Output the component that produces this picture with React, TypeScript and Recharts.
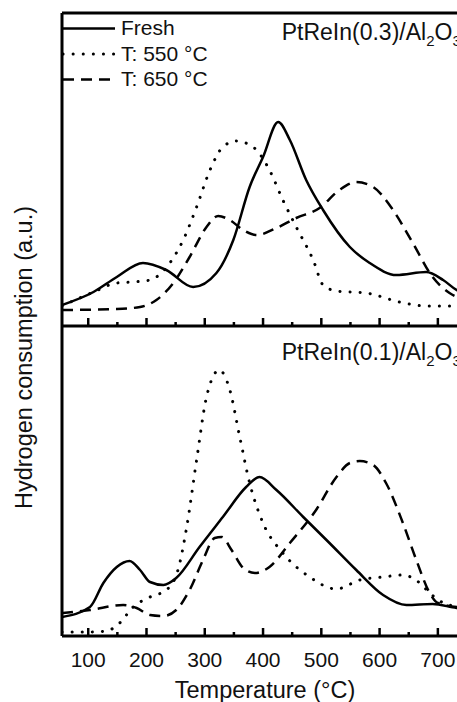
import { Legend, Line, LineChart, XAxis, YAxis } from "recharts";

const FONT = '"Liberation Sans", Arial, Helvetica, sans-serif';

const seriesNames = ["Fresh", "T: 550 °C", "T: 650 °C"];
const seriesDash = ["", "0.1 10", "11 7"];
const tempTicks = [100, 150, 200, 250, 300, 350, 400, 450, 500, 550, 600, 650, 700];

// PtReIn(0.3)/Al2O3 : [temperature °C, H2 signal a.u.]
const topFresh = [[55, 21], [109, 34], [149, 49], [194, 63], [234, 56], [280, 39], [320, 53], [349, 86], [377, 139], [400, 169], [426, 204], [446, 186], [474, 146], [503, 116], [549, 79], [583, 63], [629, 51], [680, 54], [709, 46], [732, 36], [750, 31]];
const top550 = [[55, 20], [109, 34], [149, 43], [177, 44], [206, 46], [240, 63], [263, 86], [286, 119], [309, 156], [331, 179], [354, 185], [383, 179], [411, 156], [434, 126], [457, 99], [486, 66], [503, 41], [526, 35], [577, 33], [634, 24], [680, 20], [750, 20]];
const top650 = [[55, 16], [149, 17], [189, 19], [217, 26], [246, 43], [274, 69], [303, 99], [323, 110], [343, 106], [366, 96], [389, 91], [423, 98], [457, 108], [497, 118], [531, 136], [560, 144], [589, 139], [623, 116], [657, 83], [691, 49], [720, 33], [750, 26]];

// PtReIn(0.1)/Al2O3
const botFresh = [[55, 19], [103, 29], [126, 53], [149, 69], [171, 75], [189, 66], [206, 54], [229, 51], [251, 58], [291, 89], [331, 119], [371, 149], [394, 159], [423, 146], [469, 119], [514, 93], [560, 66], [606, 41], [646, 31], [691, 32], [732, 28], [750, 27]];
const bot550 = [[55, 4], [103, 4], [131, 5], [154, 13], [177, 29], [206, 39], [234, 46], [254, 66], [269, 109], [286, 176], [303, 239], [325, 266], [343, 246], [360, 199], [377, 153], [400, 113], [434, 83], [480, 59], [526, 47], [566, 56], [606, 59], [640, 61], [669, 53], [686, 43], [710, 33], [750, 28]];
const bot650 = [[55, 23], [103, 26], [160, 31], [183, 28], [206, 21], [229, 20], [251, 26], [274, 46], [297, 76], [317, 98], [329, 99], [346, 86], [366, 68], [386, 63], [411, 69], [446, 93], [491, 126], [526, 159], [549, 173], [566, 175], [589, 171], [611, 153], [640, 113], [663, 76], [686, 43], [700, 33], [750, 28]];

const toRows = (pts: number[][]) => pts.map(([t, v]) => ({ t, v }));

function InTick(props: any) {
  const { x, y, payload, showLabel } = props;
  const major = payload.value % 100 === 0;
  return (
    <g>
      <line x1={x} x2={x} y1={y} y2={y - (major ? 8 : 4)} stroke="#000" strokeWidth={2.5} />
      {showLabel && major && (
        <text x={x} y={y + 31} textAnchor="middle" fontSize={21} fontFamily={FONT} fill="#111">
          {payload.value}
        </text>
      )}
    </g>
  );
}

function LegendBox() {
  return (
    <svg width={200} height={80} style={{ display: "block" }}>
      {seriesNames.map((name, i) => {
        const ly = 14.5 + i * 25.5;
        return (
          <g key={name}>
            <line x1={2} x2={54} y1={ly} y2={ly} stroke="#000" strokeWidth={i === 1 ? 3 : 2.5}
              strokeDasharray={seriesDash[i] || undefined} strokeLinecap={i === 1 ? "round" : "butt"} />
            <text x={60} y={ly + 6.5} fontSize={21} fontFamily={FONT} fill="#111">{name}</text>
          </g>
        );
      })}
    </svg>
  );
}

function Panel({ series, showLabels, legend }: { series: number[][][]; showLabels: boolean; legend?: boolean }) {
  return (
    <>
      <XAxis type="number" dataKey="t" domain={[55, 750]} allowDataOverflow ticks={tempTicks} interval={0}
        height={showLabels ? 66 : 14} tickSize={0} tickMargin={0} tickLine={false}
        axisLine={{ stroke: "#000", strokeWidth: 3 }}
        tick={(p: any) => <InTick {...p} showLabel={showLabels} />} />
      <YAxis type="number" domain={[0, showLabels ? 310 : 313]} width={1} tick={false} tickLine={false}
        axisLine={{ stroke: "#000", strokeWidth: 3 }} />
      {series.map((pts, i) => (
        <Line key={seriesNames[i]} name={seriesNames[i]} data={toRows(pts)} dataKey="v" type="monotone"
          stroke="#000" strokeWidth={i === 1 ? 3 : 2.5} strokeDasharray={seriesDash[i] || undefined}
          strokeLinecap={i === 1 ? "round" : "butt"} dot={false} activeDot={false} isAnimationActive={false} />
      ))}
      {legend && (
        <Legend layout="vertical" align="center" verticalAlign="middle" content={() => <LegendBox />}
          wrapperStyle={{ left: 61, top: 14, width: 200, height: 80 }} />
      )}
    </>
  );
}

export default function App() {
  return (
    <div style={{ position: "absolute", left: 0, top: 0, width: 457, height: 702, overflow: "hidden", background: "#fff" }}>
      <div style={{ position: "absolute", left: 0, top: 0 }}>
        <LineChart width={520} height={340} margin={{ top: 12, right: 53, left: 61, bottom: 0 }}>
          <XAxis xAxisId="top" orientation="top" type="number" dataKey="t" domain={[55, 750]} height={1}
            tick={false} tickLine={false} axisLine={{ stroke: "#000", strokeWidth: 3 }} />
          {Panel({ series: [topFresh, top550, top650], showLabels: false, legend: true })}
        </LineChart>
      </div>
      <div style={{ position: "absolute", left: 0, top: 300 }}>
        <LineChart width={520} height={402} margin={{ top: 26, right: 53, left: 61, bottom: 0 }}>
          {Panel({ series: [botFresh, bot550, bot650], showLabels: true })}
        </LineChart>
      </div>
      <svg width={457} height={702} style={{ position: "absolute", left: 0, top: 0, pointerEvents: "none" }}
        fontFamily={FONT} fill="#111">
        <text x={281.7} y={40} fontSize={23}>
          PtReIn(0.3)/Al<tspan fontSize={15} dy={6}>2</tspan><tspan dy={-6}>O</tspan><tspan fontSize={15} dy={6}>3</tspan>
        </text>
        <text x={281.7} y={360} fontSize={23}>
          PtReIn(0.1)/Al<tspan fontSize={15} dy={6}>2</tspan><tspan dy={-6}>O</tspan><tspan fontSize={15} dy={6}>3</tspan>
        </text>
        <text x={265} y={698} fontSize={23.5} textAnchor="middle">Temperature (°C)</text>
        <text transform="translate(32 357.5) rotate(-90)" fontSize={23.5} textAnchor="middle">
          Hydrogen consumption (a.u.)
        </text>
      </svg>
    </div>
  );
}
